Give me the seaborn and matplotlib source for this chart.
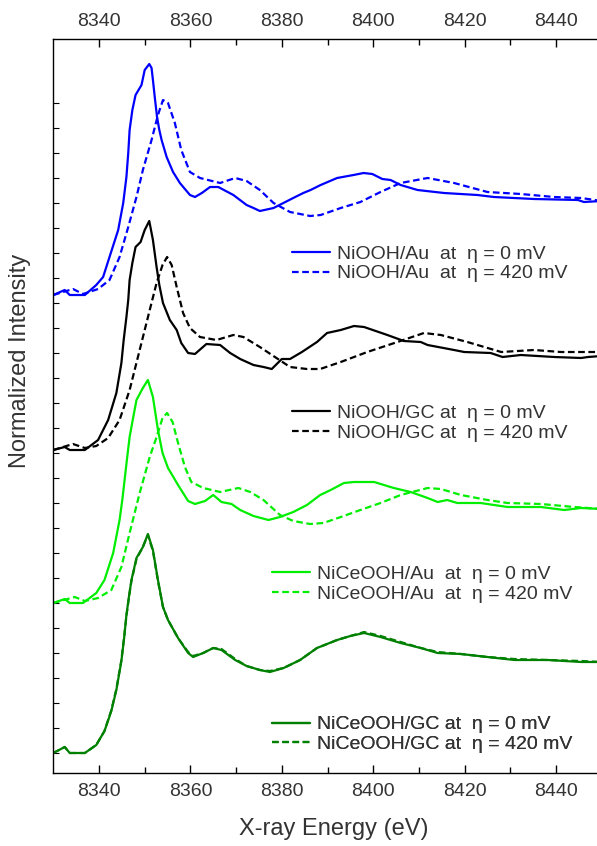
import numpy as np
import pandas as pd
import matplotlib
matplotlib.use("Agg")
import matplotlib.pyplot as plt
import seaborn as sns
from matplotlib.lines import Line2D

# ---------------- data ----------------
samples = ["NiOOH/Au", "NiOOH/GC", "NiCeOOH/Au", "NiCeOOH/GC"]
sample_colors = ["#0000FF", "#000000", "#00EE00", "#008000"]
sample_offsets = [4.58, 3.03, 1.50, 0.0]
potentials = ["0 mV", "420 mV"]
legend_text = [
    ["NiOOH/Au  at  \u03b7 = 0 mV", "NiOOH/Au  at  \u03b7 = 420 mV"],
    ["NiOOH/GC at  \u03b7 = 0 mV", "NiOOH/GC at  \u03b7 = 420 mV"],
    ["NiCeOOH/Au  at  \u03b7 = 0 mV", "NiCeOOH/Au  at  \u03b7 = 420 mV"],
    ["NiCeOOH/GC at  \u03b7 = 0 mV", "NiCeOOH/GC at  \u03b7 = 420 mV"],
]

niooh_au_0_e = [8330, 8332.5, 8333.6, 8336.9, 8339.4, 8340.9, 8342.3, 8344.2, 8345.3, 8346, 8346.4, 8346.7,
                8347.3, 8348, 8349.3, 8350, 8351, 8351.5, 8351.8, 8352.2, 8352.7, 8353.2, 8353.7, 8354.8,
                8356.2, 8357.7, 8359.9, 8361, 8362.5, 8364.3, 8366.1, 8369.4, 8372.3, 8373.8, 8375.2,
                8378.2, 8382.5, 8384.7, 8386.3, 8388.5, 8392.1, 8395.7, 8397.9, 8399.8,
                8402, 8403.8, 8406, 8409.7, 8415.5, 8422.8, 8426.4, 8435.2, 8444.8, 8446.1, 8450]
niooh_au_0_i = [0.0, 0.05, 0.0, 0.0, 0.10, 0.18, 0.38, 0.65, 0.92, 1.18, 1.42, 1.65,
                1.85, 2.00, 2.10, 2.25, 2.31, 2.27, 2.15, 1.98, 1.78, 1.65, 1.55, 1.38,
                1.23, 1.12, 1.00, 0.98, 1.02, 1.08, 1.08, 1.00, 0.90, 0.87, 0.84,
                0.87, 0.97, 1.02, 1.05, 1.10, 1.17, 1.20, 1.22, 1.21,
                1.16, 1.15, 1.10, 1.05, 1.02, 1.00, 0.98, 0.96, 0.95, 0.93, 0.94]

niooh_au_420_e = [8330, 8334.3, 8336.5, 8339.8, 8342.3, 8344.5, 8346.4, 8348.2, 8349.6, 8351.5, 8352.9,
                  8354, 8355.1, 8356.6, 8358, 8359.9, 8362.1, 8366.5, 8369.8, 8372.3, 8375.2, 8378.2,
                  8381.8, 8386.2, 8388.5, 8392.9, 8397.2, 8401.6, 8406, 8411.9, 8417.7, 8425, 8432.3,
                  8439.6, 8445.5, 8450]
niooh_au_420_i = [0.0, 0.06, 0.01, 0.06, 0.15, 0.38, 0.68, 0.98, 1.25, 1.55, 1.80,
                  1.95, 1.92, 1.72, 1.45, 1.23, 1.17, 1.12, 1.17, 1.14, 1.05, 0.92,
                  0.83, 0.79, 0.80, 0.87, 0.93, 1.03, 1.12, 1.17, 1.12, 1.03, 1.01,
                  0.98, 0.97, 0.94]

niooh_gc_0_e = [8330, 8332.5, 8333.6, 8336.9, 8339.8, 8342, 8343.8, 8344.9, 8345.4, 8346, 8346.4, 8346.7,
                8347.3, 8348, 8349.1, 8350, 8351, 8351.8, 8352.6, 8353.2, 8354, 8355.5, 8357, 8358,
                8359.5, 8361, 8363.5, 8366.5, 8368.7, 8370.9, 8373.8, 8376, 8377.8, 8380, 8381.8,
                8384.4, 8387.7, 8389.9, 8392.9, 8395.8, 8398, 8403.1, 8406.7, 8410.4, 8411.9, 8417.7,
                8419.9, 8425.7, 8428.3, 8432.3, 8439.6, 8445.5, 8447, 8450]
niooh_gc_0_i = [0.0, 0.03, 0.0, 0.0, 0.10, 0.30, 0.57, 0.87, 1.10, 1.33, 1.50, 1.70,
                1.87, 2.03, 2.08, 2.20, 2.29, 2.10, 1.83, 1.65, 1.47, 1.30, 1.20, 1.07,
                0.97, 0.96, 1.06, 1.05, 0.97, 0.91, 0.85, 0.83, 0.81, 0.91, 0.91,
                0.98, 1.08, 1.17, 1.20, 1.24, 1.23, 1.15, 1.09, 1.08, 1.05, 1.00,
                0.98, 0.97, 0.93, 0.95, 0.93, 0.92, 0.93, 0.94]

niooh_gc_420_e = [8330, 8334.3, 8336.9, 8339.4, 8342, 8344.5, 8346.7, 8348.9, 8351.1, 8352.6, 8353.9,
                  8354.9, 8355.9, 8357, 8358.4, 8359.9, 8362.1, 8365.7, 8369.4, 8371.6, 8375.2, 8378.5,
                  8381.8, 8385.5, 8388.4, 8392.9, 8398.7, 8405.3, 8411.1, 8414.8, 8420.6, 8428, 8435.2,
                  8441.1, 8450]
niooh_gc_420_i = [0.0, 0.06, 0.02, 0.04, 0.12, 0.30, 0.60, 1.00, 1.40, 1.67, 1.85,
                  1.93, 1.85, 1.63, 1.37, 1.22, 1.13, 1.10, 1.15, 1.13, 1.03, 0.93,
                  0.83, 0.81, 0.81, 0.88, 0.98, 1.08, 1.17, 1.15, 1.08, 0.98, 1.00,
                  0.98, 0.98]

niceooh_au_0_e = [8330, 8332.5, 8333.6, 8336.5, 8339.4, 8341.2, 8343.1, 8344.5, 8345.1, 8345.6, 8346.1,
                  8346.7, 8347.5, 8348.2, 8349.6, 8350.7, 8351.8, 8352.9, 8353.9, 8355.1, 8357.3, 8359.5,
                  8361, 8363.2, 8365, 8366.8, 8369, 8370.9, 8373.8, 8377.1, 8379.6, 8382.5, 8385.5,
                  8388.4, 8390.7, 8393.6, 8395.8, 8400.2, 8404.5, 8408.2, 8411.9, 8414.1, 8416.2,
                  8418.4, 8423.5, 8429.4, 8436.7, 8441.8, 8445.5, 8450]
niceooh_au_0_i = [0.0, 0.04, 0.0, 0.0, 0.10, 0.23, 0.50, 0.83, 1.03, 1.23, 1.43,
                  1.66, 1.86, 2.03, 2.15, 2.23, 2.06, 1.73, 1.50, 1.35, 1.18, 1.02,
                  0.99, 1.02, 1.08, 1.01, 0.99, 0.93, 0.87, 0.83, 0.86, 0.91, 0.98,
                  1.08, 1.13, 1.20, 1.21, 1.21, 1.15, 1.11, 1.05, 1.01, 1.03,
                  1.00, 1.00, 0.96, 0.96, 0.93, 0.95, 0.94]

niceooh_au_420_e = [8330, 8334.7, 8336.9, 8339.8, 8342.7, 8344.9, 8346.7, 8348.9, 8351.1, 8352.6, 8353.9,
                    8354.9, 8356.1, 8357.3, 8358.8, 8360.2, 8362.8, 8366.5, 8370.5, 8373.1, 8376, 8379.6,
                    8382.5, 8386.2, 8389.1, 8392.9, 8397.2, 8401.6, 8406, 8411.9, 8414.8, 8419.2, 8425,
                    8429.4, 8436.7, 8444, 8450]
niceooh_au_420_i = [0.0, 0.06, 0.02, 0.05, 0.13, 0.36, 0.70, 1.10, 1.46, 1.66, 1.85,
                    1.90, 1.81, 1.60, 1.36, 1.21, 1.15, 1.11, 1.15, 1.11, 1.03, 0.88,
                    0.82, 0.79, 0.80, 0.86, 0.93, 1.00, 1.08, 1.15, 1.14, 1.08, 1.03,
                    1.00, 0.99, 0.96, 0.94]

niceooh_gc_0_e = [8330, 8332.5, 8333.6, 8336.9, 8339.4, 8341.2, 8342.7, 8343.8, 8344.9, 8345.5, 8346,
                  8346.6, 8347.1, 8348.2, 8349.6, 8350.7, 8351.8, 8352.9, 8354, 8355.1, 8357.3, 8359.5,
                  8360.6, 8362.8, 8365, 8366.8, 8369.8, 8372.3, 8375.2, 8377.4, 8380.4, 8384, 8387.7,
                  8392.1, 8395, 8398, 8401.6, 8406, 8410.4, 8414.1, 8419.2, 8425, 8430.9, 8438.2,
                  8445.5, 8450]
niceooh_gc_0_i = [0.0, 0.06, 0.0, 0.0, 0.08, 0.22, 0.42, 0.63, 0.92, 1.15, 1.38,
                  1.58, 1.73, 1.95, 2.06, 2.19, 2.03, 1.73, 1.46, 1.33, 1.15, 1.00,
                  0.96, 1.00, 1.05, 1.03, 0.93, 0.87, 0.83, 0.81, 0.85, 0.93, 1.05,
                  1.13, 1.17, 1.20, 1.16, 1.10, 1.05, 1.00, 0.99, 0.96, 0.93, 0.93,
                  0.91, 0.91]

niceooh_gc_420_e = [8330, 8332.5, 8333.6, 8336.9, 8339.4, 8341.2, 8342.7, 8343.8, 8344.9, 8345.5, 8346,
                    8346.6, 8347.1, 8348.2, 8349.6, 8350.7, 8351.8, 8352.9, 8354, 8355.1, 8357.3, 8359.5,
                    8360.6, 8362.8, 8365, 8366.8, 8369.8, 8372.3, 8375.2, 8377.4, 8380.4, 8384, 8387.7,
                    8392.1, 8395, 8398, 8401.6, 8406, 8410.4, 8414.1, 8419.2, 8425, 8430.9, 8438.2,
                    8445.5, 8450]
niceooh_gc_420_i = [0.0, 0.06, 0.0, 0.0, 0.08, 0.22, 0.43, 0.64, 0.93, 1.16, 1.37,
                    1.57, 1.72, 1.94, 2.06, 2.18, 2.02, 1.72, 1.46, 1.33, 1.15, 1.01,
                    0.97, 1.00, 1.05, 1.04, 0.94, 0.87, 0.83, 0.82, 0.85, 0.93, 1.05,
                    1.13, 1.17, 1.21, 1.17, 1.11, 1.05, 1.01, 0.99, 0.96, 0.94, 0.93,
                    0.92, 0.91]

series = [
    [(niooh_au_0_e, niooh_au_0_i), (niooh_au_420_e, niooh_au_420_i)],
    [(niooh_gc_0_e, niooh_gc_0_i), (niooh_gc_420_e, niooh_gc_420_i)],
    [(niceooh_au_0_e, niceooh_au_0_i), (niceooh_au_420_e, niceooh_au_420_i)],
    [(niceooh_gc_0_e, niceooh_gc_0_i), (niceooh_gc_420_e, niceooh_gc_420_i)],
]

x_major_ticks = [8340, 8360, 8380, 8400, 8420, 8440]
x_minor_ticks = [8350, 8370, 8390, 8410, 8430, 8450]
y_ticks = [0.25 * k for k in range(27)]

rows = []
for s, name in enumerate(samples):
    for p, pot in enumerate(potentials):
        e, inten = series[s][p]
        for ev, iv in zip(e, inten):
            rows.append({"energy": ev, "signal": iv + sample_offsets[s],
                         "sample": name, "potential": pot})
df = pd.DataFrame(rows)

# ---------------- style ----------------
sns.set_theme(style="ticks")
plt.rcParams["font.family"] = ["Liberation Sans", "DejaVu Sans"]
TXT = "#333333"

W, H = 597, 846
fig = plt.figure(figsize=(W / 100, H / 100), dpi=100)
ax_l, ax_r = 53.3, 601.7
ax_t, ax_b = 39.3, 773.0
ax = fig.add_axes([ax_l / W, 1 - ax_b / H, (ax_r - ax_l) / W, (ax_b - ax_t) / H])

dash = (0, (3.0, 1.6))
for s, name in enumerate(samples):
    for p, pot in enumerate(potentials):
        sub = df[(df["sample"] == name) & (df["potential"] == pot)]
        sns.lineplot(data=sub, x="energy", y="signal", ax=ax, color=sample_colors[s],
                     linewidth=1.6, linestyle="-" if p == 0 else dash,
                     estimator=None, sort=False, legend=False)

ax.set_xlim(8330, 8450)
ax.set_ylim(-0.2, 7.137)

ax.set_xticks(x_major_ticks)
ax.set_xticks(x_minor_ticks, minor=True)
ax.set_yticks(y_ticks)
ax.set_yticklabels([])
ax.tick_params(axis="x", which="major", direction="in", length=6, width=1, color="black",
               top=True, bottom=True, labeltop=True, labelbottom=True,
               labelsize=14, labelcolor=TXT, pad=7)
ax.tick_params(axis="x", which="minor", direction="in", length=4, width=1, color="black",
               top=True, bottom=True)
ax.tick_params(axis="y", which="major", direction="in", length=4, width=0.8, color="black",
               left=True, right=False)

for side in ["left", "top", "bottom"]:
    ax.spines[side].set_color("black")
    ax.spines[side].set_linewidth(1.0)
ax.spines["right"].set_visible(False)

ax.set_xlabel("X-ray Energy (eV)", fontsize=17, color=TXT)
ax.xaxis.set_label_coords((334 - ax_l) / (ax_r - ax_l), (ax_b - 818) / (ax_b - ax_t))
ax.set_ylabel("Normalized Intensity", fontsize=17, color=TXT)
ax.yaxis.set_label_coords((31 - ax_l) / (ax_r - ax_l), (ax_b - 361) / (ax_b - ax_t))

# legends (one per sample)
legend_pos = [(292, 263.7), (292, 423.0), (272, 584.3), (272, 734.5)]
for s in range(4):
    handles = [Line2D([], [], color=sample_colors[s], lw=1.6, linestyle="-"),
               Line2D([], [], color=sample_colors[s], lw=1.6, linestyle=dash)]
    px, py = legend_pos[s]
    leg = ax.legend(handles, legend_text[s], loc="center left",
                    bbox_to_anchor=((px - ax_l) / (ax_r - ax_l), (ax_b - py) / (ax_b - ax_t)),
                    frameon=False, fontsize=14, handlelength=1.95, handletextpad=0.36,
                    labelspacing=0.12, borderpad=0, borderaxespad=0, labelcolor=TXT)
    ax.add_artist(leg)

fig.savefig("out.png", dpi=100)
